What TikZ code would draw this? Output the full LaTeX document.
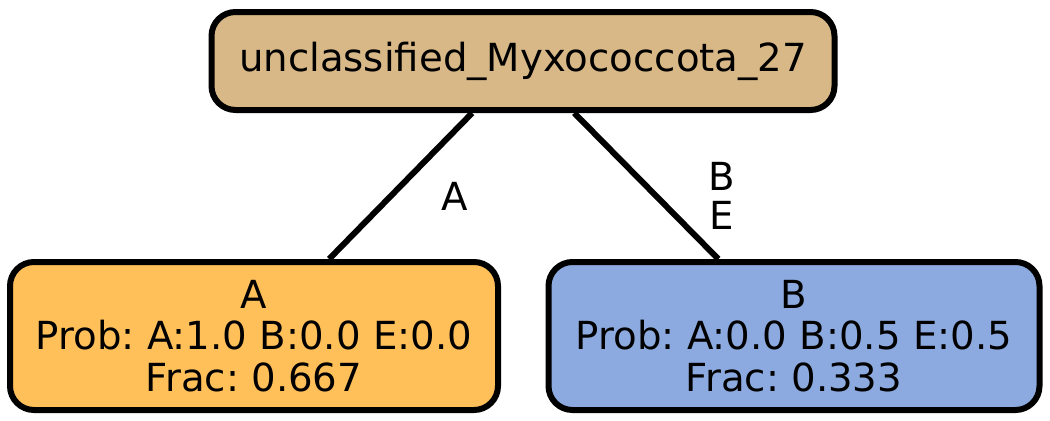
\documentclass[tikz,border=0pt]{standalone}
\usepackage{fontspec}
\setmainfont{DejaVu Sans}
\definecolor{rootfill}{HTML}{D8B886}
\definecolor{afill}{HTML}{FFC05A}
\definecolor{bfill}{HTML}{8CAADF}
\tikzset{
  treenode/.style={draw=black, line width=4.5pt, rounded corners=18pt, align=center,
    inner sep=0pt, font=\fontsize{29}{31}\selectfont\frenchspacing},
  treeedge/.style={draw=black, line width=4.5pt},
  edgelabel/.style={align=center, font=\fontsize{29}{29.5}\selectfont}
}
\begin{document}
\begin{tikzpicture}[x=0.75pt,y=-0.75pt]
\useasboundingbox (0,0) rectangle (1050,421);
\node [treenode, fill=rootfill, minimum width=623*0.75pt, minimum height=98*0.75pt] (root) at (523,61) {unclassified\_Myxococcota\_27};
\node [treenode, fill=afill, minimum width=488*0.75pt, minimum height=148*0.75pt] (nodeA) at (254,336) {A\\Prob: A:1.0 B:0.0 E:0.0\\Frac: 0.667};
\node [treenode, fill=bfill, minimum width=491*0.75pt, minimum height=148*0.75pt] (nodeB) at (794,336) {B\\Prob: A:0.0 B:0.5 E:0.5\\Frac: 0.333};
\draw [treeedge] (root) -- (nodeA);
\draw [treeedge] (root) -- (nodeB);
\node [edgelabel] (labelA) at (455,196) {A};
\node [edgelabel] (labelB) at (722,196) {B\\E};
\end{tikzpicture}
\end{document}
